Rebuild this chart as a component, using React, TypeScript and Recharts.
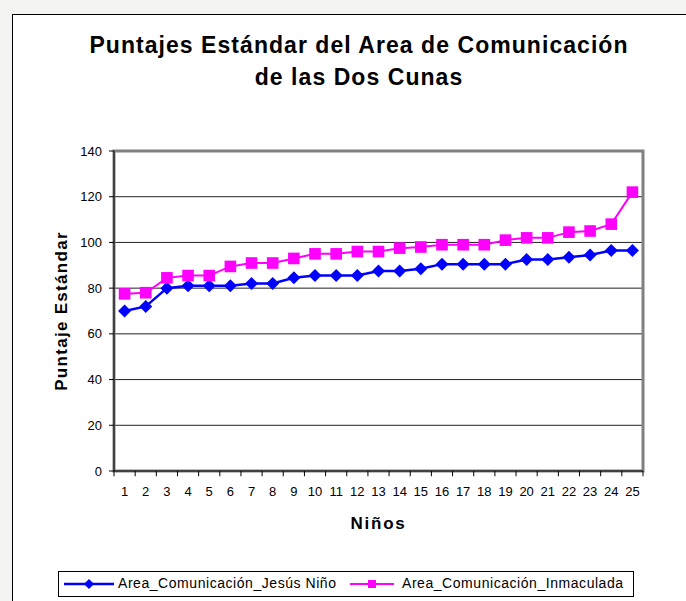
import React from 'react';
import { LineChart, Line, XAxis, YAxis, CartesianGrid, ReferenceArea, ReferenceLine } from 'recharts';

const ninos = [1, 2, 3, 4, 5, 6, 7, 8, 9, 10, 11, 12, 13, 14, 15, 16, 17, 18, 19, 20, 21, 22, 23, 24, 25];
const jesusNino = [70, 72, 80, 81, 81, 81, 82, 82, 84.5, 85.5, 85.5, 85.5, 87.5, 87.5, 88.5, 90.5, 90.5, 90.5, 90.5, 92.5, 92.5, 93.5, 94.5, 96.5, 96.5];
const inmaculada = [77.5, 78, 84.5, 85.5, 85.5, 89.5, 91, 91, 93, 95, 95, 96, 96, 97.5, 98, 99, 99, 99, 101, 102, 102, 104.5, 105, 108, 122];
const yTicks = [0, 20, 40, 60, 80, 100, 120, 140];
// tick marks sit on the boundaries between categories
const edgeTicks = [0.5, ...ninos.map(n => n + 0.5)];

const chartData = ninos.map((n, i) => ({
  nino: n,
  jesus: jesusNino[i],
  inmaculada: inmaculada[i]
}));

const FONT = '"Liberation Sans", Arial, sans-serif';

const Diamond = ({ cx, cy, r = 6.5, color = '#0000FF' }: any) => {
  if (cx == null || cy == null) return null;
  return <polygon points={`${cx},${cy - r} ${cx + r},${cy} ${cx},${cy + r} ${cx - r},${cy}`} fill={color} />;
};

const Square = ({ cx, cy, s = 5.8, color = '#FF00FF' }: any) => {
  if (cx == null || cy == null) return null;
  return <rect x={cx - s} y={cy - s} width={s * 2} height={s * 2} fill={color} />;
};

const App: React.FC = () => {
  return <div style={{ position: 'absolute', left: 0, top: 0, width: 686, height: 601, overflow: 'hidden', background: '#f3f4f1', fontFamily: FONT }}>
      <div style={{ position: 'absolute', left: 12, top: 14, width: 700, height: 620, border: '1px solid #000', background: '#fff' }} />
      <div style={{ position: 'absolute', left: 12, top: 29, width: 694, textAlign: 'center', fontWeight: 'bold', fontSize: 23, lineHeight: '32px', letterSpacing: 1.05, color: '#000' }}>
        Puntajes Estándar del Area de Comunicación<br />de las Dos Cunas
      </div>
      <div style={{ position: 'absolute', left: 0, top: 0 }}>
        <LineChart width={686} height={601} data={chartData} margin={{ top: 151, right: 43, bottom: 70, left: 54 }}>
          <ReferenceArea x1={0.5} x2={25.5} y1={0} y2={140} fill="none" stroke="#808080" strokeWidth={3} ifOverflow="visible" />
          <CartesianGrid vertical={false} stroke="#222" strokeWidth={1} />
          {edgeTicks.map(e => <ReferenceLine key={`t-${e}`} segment={[{ x: e, y: 0 }, { x: e, y: -2.3 }]} stroke="#000" strokeWidth={1} ifOverflow="visible" />)}
          <XAxis dataKey="nino" type="number" domain={[0.5, 25.5]} ticks={ninos} interval={0} height={60} axisLine={{ stroke: '#000' }} tickLine={false} tickSize={6} tickMargin={10} tick={{ fill: '#000', fontSize: 13, fontFamily: FONT }} label={{ value: 'Niños', position: 'insideBottom', offset: 2, fill: '#000', fontSize: 17, fontWeight: 'bold', letterSpacing: 1.8, fontFamily: FONT }} />
          <YAxis domain={[0, 140]} ticks={yTicks} interval={0} width={60} allowDataOverflow axisLine={{ stroke: '#000' }} tickLine={{ stroke: '#000' }} tickSize={5} tickMargin={7} tick={{ fill: '#000', fontSize: 13, fontFamily: FONT }} label={{ value: 'Puntaje Estándar', angle: -90, position: 'insideLeft', offset: 7, fill: '#000', fontSize: 17, fontWeight: 'bold', letterSpacing: 1.3, fontFamily: FONT, style: { textAnchor: 'middle' } }} />
          <Line type="linear" dataKey="jesus" stroke="#0000FF" strokeWidth={2.5} isAnimationActive={false} dot={(p: any) => <Diamond key={`d-${p.index}`} cx={p.cx} cy={p.cy} />} activeDot={false} />
          <Line type="linear" dataKey="inmaculada" stroke="#FF00FF" strokeWidth={2} isAnimationActive={false} dot={(p: any) => <Square key={`s-${p.index}`} cx={p.cx} cy={p.cy} />} activeDot={false} />
        </LineChart>
      </div>
      <div style={{ position: 'absolute', left: 58, top: 571, width: 574, height: 24, border: '1px solid #000', background: '#fff', fontSize: 14, letterSpacing: 0.55, color: '#000', whiteSpace: 'nowrap' }}>
        <svg width={52} height={14} style={{ position: 'absolute', left: 5, top: 5 }}>
          <line x1={0} y1={7} x2={50} y2={7} stroke="#0000FF" strokeWidth={2.5} />
          <Diamond cx={25} cy={7} r={5} />
        </svg>
        <span style={{ position: 'absolute', left: 59, top: 3 }}>Area_Comunicación_Jesús Niño</span>
        <svg width={46} height={14} style={{ position: 'absolute', left: 291, top: 5 }}>
          <line x1={0} y1={7} x2={44} y2={7} stroke="#FF00FF" strokeWidth={2} />
          <Square cx={22} cy={7} s={4} />
        </svg>
        <span style={{ position: 'absolute', left: 343, top: 3 }}>Area_Comunicación_Inmaculada</span>
      </div>
    </div>;
};

export default App;
